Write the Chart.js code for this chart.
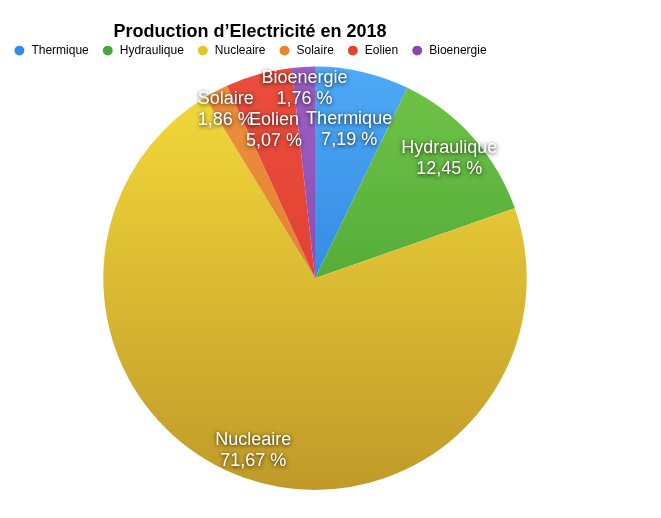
<!DOCTYPE html>
<html>
<head>
<meta charset="utf-8">
<script src="https://cdn.jsdelivr.net/npm/chart.js@4/dist/chart.umd.min.js"></script>
<style>
  html, body { margin: 0; padding: 0; background: #fff; }
</style>
</head>
<body>
<canvas id="pie" width="661" height="518"></canvas>
<script>
const categories = ['Thermique', 'Hydraulique', 'Nucleaire', 'Solaire', 'Eolien', 'Bioenergie'];
const shares = [7.19, 12.45, 71.67, 1.86, 5.07, 1.76];
const shareLabels = ['7,19 %', '12,45 %', '71,67 %', '1,86 %', '5,07 %', '1,76 %'];

// top / bottom shades of each slice (vertical gradient like the original)
const TOPCOLORS = ['#4ea9f6', '#70c447', '#f6dc3b', '#ef903d', '#ec4d3c', '#9c5ec2'];
const BOTCOLORS = ['#1a6fd2', '#3a962c', '#c09a29', '#d8742c', '#d6382b', '#7a42a6'];
const LEGENDCOLORS = ['#2f8ce8', '#4aa83a', '#e6c42e', '#e8832f', '#e3402f', '#8549b3'];
// how far out (fraction of radius) each label sits
const LABELRADIUS = [0.72, 0.85, 0.865, 0.9, 0.725, 0.9];
const HEADER_SHIFT = 65;

function sliceFill(ctx) {
    const chart = ctx.chart;
    const area = chart.chartArea;
    if (!area || !isFinite(area.top) || !isFinite(area.bottom)) return TOPCOLORS[ctx.dataIndex];
    const cy = (area.top + area.bottom) / 2;
    const r = Math.min(area.right - area.left, area.bottom - area.top) / 2;
    const g = chart.ctx.createLinearGradient(0, cy - r, 0, cy + r);
    g.addColorStop(0, TOPCOLORS[ctx.dataIndex]);
    g.addColorStop(1, BOTCOLORS[ctx.dataIndex]);
    return g;
}

// title + legend sit left of the pie centre in the original
const shiftHeader = {
    id: 'shiftHeader',
    afterLayout(chart) {
        [chart.titleBlock, chart.legend].forEach(b => {
            if (!b) return;
            b.left -= HEADER_SHIFT;
            b.right -= HEADER_SHIFT;
        });
    }
};

const sliceLabels = {
    id: 'sliceLabels',
    afterDatasetsDraw(chart) {
        const c = chart.ctx;
        chart.getDatasetMeta(0).data.forEach((arc, i) => {
            const mid = (arc.startAngle + arc.endAngle) / 2;
            const r = arc.outerRadius * LABELRADIUS[i];
            const x = arc.x + Math.cos(mid) * r;
            const y = arc.y + Math.sin(mid) * r;
            c.save();
            c.font = '18px "Liberation Sans", Arial, sans-serif';
            c.textAlign = 'center';
            c.textBaseline = 'middle';
            c.fillStyle = '#ffffff';
            c.shadowColor = 'rgba(0,0,0,0.85)';
            c.shadowBlur = 4;
            c.shadowOffsetX = 0;
            c.shadowOffsetY = 1;
            c.fillText(categories[i], x, y - 10.5);
            c.fillText(shareLabels[i], x, y + 10.5);
            c.restore();
        });
    }
};

new Chart(document.getElementById('pie').getContext('2d'), {
    type: 'pie',
    data: {
        labels: categories,
        datasets: [{ data: shares, backgroundColor: sliceFill, borderWidth: 0, hoverOffset: 0 }],
    },
    options: {
        responsive: false,
        animation: false,
        layout: { padding: { left: 0, right: 31, top: 0, bottom: 28 } },
        plugins: {
            title: {
                display: true,
                text: 'Production d\u2019Electricité en 2018',
                color: '#000',
                font: { family: '"Liberation Sans", Arial, sans-serif', size: 18, weight: 'bold' },
                padding: { top: 21, bottom: -11 },
            },
            legend: {
                position: 'top',
                labels: {
                    color: '#1a1a1a',
                    font: { family: '"Liberation Sans", Arial, sans-serif', size: 12 },
                    usePointStyle: true,
                    pointStyle: 'circle',
                    boxWidth: 12,
                    boxHeight: 7,
                    padding: 13,
                    generateLabels(chart) {
                        return categories.map((name, i) => ({
                            text: name, fillStyle: LEGENDCOLORS[i], strokeStyle: LEGENDCOLORS[i],
                            lineWidth: 0, pointStyle: 'circle', hidden: false, index: i,
                        }));
                    },
                },
            },
            tooltip: { enabled: false },
        },
    },
    plugins: [shiftHeader, sliceLabels],
});
</script>
</body>
</html>
